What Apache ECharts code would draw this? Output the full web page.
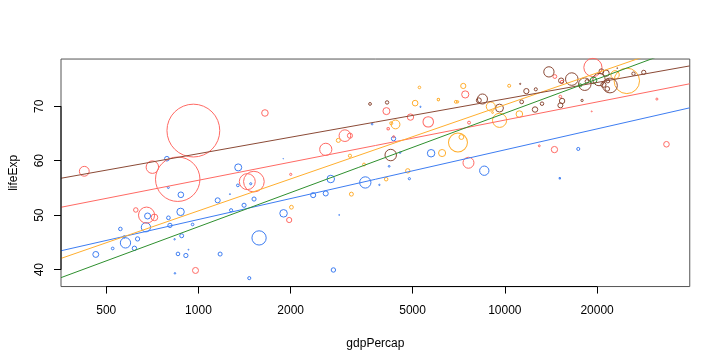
<!DOCTYPE html>
<html>
<head>
<meta charset="utf-8">
<script src="https://cdn.jsdelivr.net/npm/echarts@6/dist/echarts.min.js"></script>
<style>html,body{margin:0;padding:0;background:#fff;}#c{width:720px;height:360px;}</style>
</head>
<body>
<div id="c"></div>
<script>
// Gapminder 1982: gdpPercap, lifeExp, pop per continent
var africaGdp = [5745.16,2756.95,1277.90,4551.14,807.20,556.10,2367.98,956.75,797.91,1267.10,673.75,4879.51,2602.66,2879.47,3503.73,927.83,524.88,577.86,15113.36,835.81,876.03,857.25,838.12,1348.23,797.26,572.20,17364.28,1155.44,632.80,618.02,1481.15,3688.04,2702.62,462.21,4191.10,909.72,1576.97,5303.38,881.57,1890.22,1518.48,1465.01,1176.81,8568.27,1895.54,3895.38,874.24,1344.58,4332.72,682.27,1408.68,788.86];
var africaLife = [61.368,39.942,50.904,61.484,48.122,47.471,53.678,48.295,49.517,53.859,47.784,56.695,53.983,50.04,56.006,43.662,43.89,44.916,56.761,45.58,53.744,42.891,39.327,58.766,55.078,46.027,62.155,52.724,45.642,43.916,55.769,66.711,56.639,42.795,58.968,42.598,45.826,69.885,46.218,60.351,52.961,38.445,42.863,58.161,50.338,55.561,50.608,55.471,64.048,49.849,51.821,60.363];
var africaPop = [20033753,7016384,3641603,970347,6634596,4580410,9250831,2476971,4875118,348643,30646495,1774735,9025951,305991,45681811,285483,2637297,38111756,753874,715523,11400338,4710497,825987,17661452,1411807,1956875,3344074,9171477,6502825,6998256,1622136,992040,20198730,12587223,1099010,6437188,73039376,517810,5507565,98593,6147783,3464522,5828892,31140029,20367053,649901,19844382,2644765,6734098,12939400,6100407,7636524];

var asiaGdp = [978.01,19211.15,676.98,624.48,962.42,14560.53,855.72,1516.87,7608.33,14517.91,15367.03,19384.11,4161.42,4106.53,5622.94,31354.04,7640.52,4920.36,2000.60,424.00,718.37,12954.79,1443.43,2603.27,33693.18,15169.16,1648.08,3121.76,7426.35,3006.11,707.24,4336.03,1977.56];
var asiaLife = [39.854,69.052,50.009,50.957,65.525,75.45,56.596,56.159,59.62,62.038,74.45,77.11,65.869,69.1,67.123,71.309,66.983,68.0,57.489,58.056,49.594,62.728,56.158,62.082,63.012,71.76,68.757,64.59,72.16,64.597,58.816,64.406,49.113];
var asiaPop = [12881816,377967,93074406,7272485,1000281000,5264500,708000000,153343000,43072751,14173318,3858421,118454974,2347031,17647518,39326000,1497494,3086876,14441916,1756032,34680442,15796314,1301048,91462088,53456774,11254672,2651869,15410151,9410494,18501390,48827160,56142181,1425876,9657618];

var americasGdp = [8997.90,3156.51,7030.96,22898.79,5095.67,4397.58,5262.73,7316.92,2861.09,7213.79,4098.34,4820.49,2011.16,3121.76,6068.05,9611.15,3470.34,7009.60,4258.50,6240.50,10330.99,9119.53,25009.56,6920.22,11152.41];
var americasLife = [69.942,53.859,63.336,75.76,70.565,66.653,73.45,73.717,63.727,64.342,56.604,58.137,51.461,60.909,71.21,67.405,59.298,70.805,66.874,61.406,73.75,68.832,74.65,70.805,68.557];
var americasPop = [29341374,5642224,128962939,25201900,11487112,27764644,2424367,9789224,5968349,8365850,4474873,6750884,5198399,3669448,2298309,71640904,2979423,2036305,3366439,18125129,3279001,1116479,232187835,2953997,15620766];

var europeGdp = [3630.88,21597.08,20979.85,4126.61,8224.19,13221.82,15377.23,21688.04,18533.16,20293.90,22031.53,15268.42,12545.99,23269.61,12618.32,16537.48,11222.59,21399.46,26298.64,8451.53,11753.84,9605.31,15181.09,11348.55,17866.72,13926.17,20667.38,28397.72,4241.36,18232.42];
var europeLife = [70.42,73.18,73.93,70.69,71.08,70.46,70.96,74.63,74.55,74.89,73.8,74.7,69.39,76.99,73.1,74.98,74.101,76.05,75.97,71.32,72.77,69.66,70.162,70.8,71.063,76.3,76.42,76.21,61.036,74.04];
var europePop = [2780097,7574613,9856303,4172693,8892098,4413368,10303704,5117810,4826933,54433565,78335266,9786480,10705535,233997,3480000,56535636,562548,14310401,4114787,36227381,9860000,22356726,9032824,5048043,1861252,37983310,8325260,6468126,47328791,56339704];

var oceaniaGdp = [19477.01,17632.41];
var oceaniaLife = [74.74,73.84];
var oceaniaPop = [15184200,3210650];

var xTickValues = [500,1000,2000,5000,10000,20000];
var yTickValues = [40,50,60,70];

var groups = [
  {name:'Africa', gdp:africaGdp, life:africaLife, pop:africaPop, color:'#3D7DF2'},
  {name:'Asia', gdp:asiaGdp, life:asiaLife, pop:asiaPop, color:'#FF6A64'},
  {name:'Americas', gdp:americasGdp, life:americasLife, pop:americasPop, color:'#FFAE2E'},
  {name:'Europe', gdp:europeGdp, life:europeLife, pop:europePop, color:'#8B4A36'},
  {name:'Oceania', gdp:oceaniaGdp, life:oceaniaLife, pop:oceaniaPop, color:'#2E8F2E'}
];

// R-style axis ranges (data range extended by 4%)
var allX = [], allY = [];
groups.forEach(function(g){ g.gdp.forEach(function(v){allX.push(Math.log10(v));}); g.life.forEach(function(v){allY.push(v);}); });
function ext(a){ var mn=Math.min.apply(null,a), mx=Math.max.apply(null,a), d=(mx-mn)*0.04; return [mn-d, mx+d]; }
var xr = ext(allX), yr = ext(allY);

function fit(xs, ys){
  var n=xs.length, mx=0, my=0; for(var i=0;i<n;i++){mx+=xs[i];my+=ys[i];} mx/=n; my/=n;
  var sxy=0,sxx=0; for(var i=0;i<n;i++){sxy+=(xs[i]-mx)*(ys[i]-my); sxx+=(xs[i]-mx)*(xs[i]-mx);}
  var b=sxy/sxx; return [my-b*mx, b];
}

var series = [];
groups.forEach(function(g){
  series.push({
    type:'scatter', name:g.name, symbol:'circle',
    data: g.gdp.map(function(v,i){ return [Math.log10(v), g.life[i], g.pop[i]]; }),
    symbolSize: function(d){ return 2*26.4*Math.sqrt(d[2]/1e9); },
    itemStyle:{ color:'rgba(0,0,0,0)', borderColor:g.color, borderWidth:1, opacity:1 },
    emphasis:{disabled:true}, silent:true, animation:false
  });
});
groups.forEach(function(g){
  var lx = g.gdp.map(function(v){return Math.log10(v);});
  var ab = fit(lx, g.life);
  series.push({
    type:'line', name:g.name+' fit', symbol:'none', clip:true, silent:true, animation:false,
    data:[[xr[0], ab[0]+ab[1]*xr[0]],[xr[1], ab[0]+ab[1]*xr[1]]],
    lineStyle:{ color:g.color, width:1 }, z:3
  });
});

var font = 'Liberation Sans, Arial, Helvetica, sans-serif';
var chart = echarts.init(document.getElementById('c'), null, {renderer:'canvas'});
chart.setOption({
  animation:false,
  backgroundColor:'#fff',
  grid:{ left:59.04, right:30.24, top:59.04, bottom:73.44, show:true, borderColor:'#555', borderWidth:1, backgroundColor:'rgba(0,0,0,0)' },
  xAxis:{
    type:'value', min:xr[0], max:xr[1], splitLine:{show:false},
    axisLine:{show:false},
    axisTick:{show:true, length:7, lineStyle:{color:'#000', width:1}, customValues: xTickValues.map(function(v){return Math.log10(v);})},
    axisLabel:{ color:'#000', fontSize:12, fontFamily:font, margin:18, customValues: xTickValues.map(function(v){return Math.log10(v);}),
      formatter:function(v){ return String(Math.round(Math.pow(10,v))); } },
    name:'gdpPercap', nameLocation:'middle', nameGap:51, nameTextStyle:{color:'#000', fontSize:12, fontFamily:font}
  },
  yAxis:{
    type:'value', min:yr[0], max:yr[1], splitLine:{show:false},
    axisLine:{show:false},
    axisTick:{show:true, length:7, lineStyle:{color:'#000', width:1}, customValues:yTickValues},
    axisLabel:{ color:'#000', fontSize:12, fontFamily:font, rotate:90, margin:15, customValues:yTickValues },
    name:'lifeExp', nameLocation:'middle', nameGap:41, nameRotate:90, nameTextStyle:{color:'#000', fontSize:12, fontFamily:font}
  },
  series:series
});

// R-style axis lines spanning first to last tick
var p0 = chart.convertToPixel({gridIndex:0}, [Math.log10(xTickValues[0]), yTickValues[0]]);
var p1 = chart.convertToPixel({gridIndex:0}, [Math.log10(xTickValues[xTickValues.length-1]), yTickValues[yTickValues.length-1]]);
var xAxisY = chart.convertToPixel({gridIndex:0}, [xr[0], yr[0]]);
chart.setOption({
  graphic:[
    {type:'line', shape:{x1:p0[0], y1:xAxisY[1], x2:p1[0], y2:xAxisY[1]}, style:{stroke:'#000', lineWidth:1}, silent:true, z:10},
    {type:'line', shape:{x1:xAxisY[0], y1:p0[1], x2:xAxisY[0], y2:p1[1]}, style:{stroke:'#000', lineWidth:1}, silent:true, z:10}
  ]
});
</script>
</body>
</html>
